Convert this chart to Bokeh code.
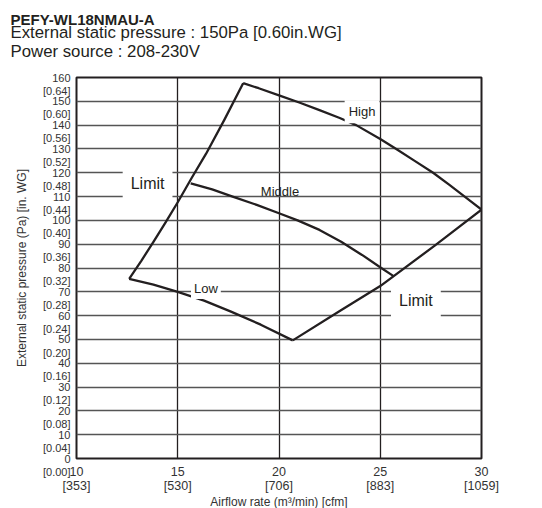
from bokeh.plotting import figure
from bokeh.models import Range1d, FixedTicker, Label, Title
from bokeh.embed import file_html
from bokeh.resources import INLINE

# ---- data ----
x_ticks = [10, 15, 20, 25, 30]
x_cfm = ["353", "530", "706", "883", "1059"]
y_ticks = [0, 10, 20, 30, 40, 50, 60, 70, 80, 90, 100, 110, 120, 130, 140, 150, 160]
y_inwg = ["0.00", "0.04", "0.08", "0.12", "0.16", "0.20", "0.24", "0.28", "0.32",
          "0.36", "0.40", "0.44", "0.48", "0.52", "0.56", "0.60", "0.64"]

limit_left_x = [12.6, 13.2, 13.8, 14.4, 15.0, 15.7, 16.4, 17.3, 18.23]
limit_left_y = [75.4, 83.0, 91.0, 99.2, 107.6, 118.0, 128.0, 142.2, 157.6]
high_x = [18.23, 19.0, 20.0, 21.0, 22.0, 23.0, 23.81, 25.0, 25.79, 26.7, 27.61, 28.4, 29.17, 30.0]
high_y = [157.6, 155.5, 152.5, 149.5, 146.3, 143.0, 140.0, 134.2, 130.0, 125.0, 120.0, 115.0, 110.0, 104.5]
limit_right_x = [20.68, 23.0, 25.0, 27.69, 30.0]
limit_right_y = [49.6, 61.9, 72.4, 89.4, 104.5]
low_x = [12.6, 13.8, 15.0, 16.3, 17.6, 19.1, 20.68]
low_y = [75.4, 73.0, 70.0, 66.3, 61.8, 56.2, 49.6]
middle_x = [15.64, 16.7, 17.71, 18.9, 20.0, 20.92, 22.0, 23.07, 24.1, 25.05, 25.66]
middle_y = [115.5, 113.0, 110.0, 106.5, 103.0, 100.0, 96.0, 91.0, 85.5, 80.0, 76.6]

title1 = "PEFY-WL18NMAU-A"
title2 = "External static pressure : 150Pa [0.60in.WG]"
title3 = "Power source : 208-230V"

FONT = "Liberation Sans"
INK = "#231f20"

p = figure(width=542, height=511, x_range=Range1d(10, 30), y_range=Range1d(0, 160),
           output_backend="svg", toolbar_location=None,
           min_border_left=76, min_border_top=77, min_border_right=61, min_border_bottom=48)
p.background_fill_color = "white"
p.border_fill_color = "white"
p.outline_line_color = INK
p.outline_line_width = 2

# header (first added = closest to the frame); first item is an invisible spacer
p.add_layout(Title(text=" ", text_font_size="1px", standoff=14), "above")
for txt, size, style, so in [(title3, "16.8px", "normal", 0),
                             (title2, "16.8px", "normal", -5),
                             (title1, "15px", "bold", -8)]:
    p.add_layout(Title(text=txt, align="left", offset=-66, standoff=so, text_font=FONT,
                       text_font_size=size, text_font_style=style, text_color=INK), "above")

# axes
p.xaxis.ticker = FixedTicker(ticks=x_ticks)
p.xaxis.major_label_overrides = {t: f"{t}\n[{c}]" for t, c in zip(x_ticks, x_cfm)}
p.yaxis.ticker = FixedTicker(ticks=y_ticks)
p.yaxis.major_label_overrides = {t: f" \n{t}\n[{v}]" for t, v in zip(y_ticks, y_inwg)}
for ax in (p.xaxis, p.yaxis):
    ax.axis_line_color = None
    ax.major_tick_line_color = None
    ax.minor_tick_line_color = None
    ax.major_tick_out = 0
    ax.major_tick_in = 0
    ax.minor_tick_out = 0
    ax.major_label_text_font = FONT
    ax.major_label_text_color = "#333333"
    ax.axis_label_text_font = FONT
    ax.axis_label_text_font_style = "normal"
    ax.axis_label_text_color = "#333333"
    ax.axis_label_text_font_size = "12px"
p.xaxis.major_label_text_font_size = "12.5px"
p.xaxis.major_label_text_line_height = 1.0
p.xaxis.major_label_standoff = 6
p.xaxis.axis_label = "Airflow rate (m³/min) [cfm]"
p.xaxis.axis_label_standoff = -1
p.yaxis.major_label_text_font_size = "11px"
p.yaxis.major_label_text_line_height = 12 / 11
p.yaxis.major_label_standoff = 6
p.yaxis.axis_label = "External static pressure (Pa) [in. WG]"
p.yaxis.axis_label_standoff = 11

# grid
p.xgrid.ticker = FixedTicker(ticks=[15, 20, 25])
p.xgrid.grid_line_color = INK
p.xgrid.grid_line_width = 1.3
p.ygrid.ticker = FixedTicker(ticks=y_ticks)
p.ygrid.grid_line_color = "#555555"
p.ygrid.grid_line_width = 1.3

# curves
for xs, ys in [(limit_left_x, limit_left_y), (high_x, high_y),
               (limit_right_x, limit_right_y), (low_x, low_y), (middle_x, middle_y)]:
    p.line(xs, ys, line_color=INK, line_width=2.3, line_join="round")

# curve labels
def lab(x, y, text, size, pad, bg=True):
    p.add_layout(Label(x=x, y=y, text=text, text_font=FONT, text_font_size=size,
                       text_color=INK, text_align="center", text_baseline="alphabetic",
                       background_fill_color="white" if bg else None, padding=pad))

lab(13.51, 115.3, "Limit", "16px", 8)
lab(26.76, 66.4, "Limit", "16px", 8)
lab(24.10, 145.6, "High", "13px", 4)
lab(20.05, 112.0, "Middle", "13px", 0, bg=False)
lab(16.39, 71.4, "Low", "13px", 3)

open("out.html", "w").write(file_html(p, INLINE))
